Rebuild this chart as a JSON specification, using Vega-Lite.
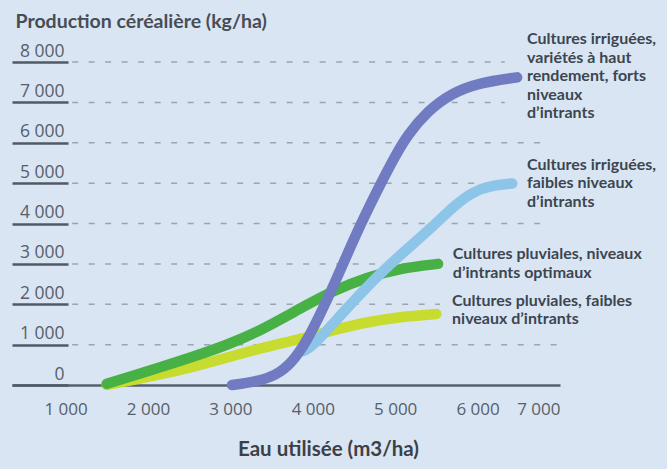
{
  "$schema": "https://vega.github.io/schema/vega-lite/v6.json",
  "autosize": "none",
  "width": 548,
  "height": 323,
  "padding": {"left": 12, "top": 62, "right": 107, "bottom": 84},
  "background": "#d9e5f3",
  "config": {"view": {"stroke": null}},
  "datasets": {
    "grid": [
      {"v": 8000, "x1": 1080, "x2": 6330},
      {"v": 7000, "x1": 1080, "x2": 6330},
      {"v": 6000, "x1": 1080, "x2": 6876},
      {"v": 5000, "x1": 1080, "x2": 6395},
      {"v": 4000, "x1": 1080, "x2": 6876},
      {"v": 3000, "x1": 1080, "x2": 5604},
      {"v": 2000, "x1": 1080, "x2": 5544},
      {"v": 1000, "x1": 1080, "x2": 6973}
    ],
    "curves": [
      {"s": "pf", "x": 1500, "y": 0},
      {"s": "pf", "x": 1800, "y": 120},
      {"s": "pf", "x": 2150, "y": 260},
      {"s": "pf", "x": 2550, "y": 450},
      {"s": "pf", "x": 2960, "y": 680},
      {"s": "pf", "x": 3380, "y": 920},
      {"s": "pf", "x": 3850, "y": 1140},
      {"s": "pf", "x": 4250, "y": 1360},
      {"s": "pf", "x": 4660, "y": 1560},
      {"s": "pf", "x": 5060, "y": 1690},
      {"s": "pf", "x": 5500, "y": 1760},
      {"s": "po", "x": 1500, "y": 30},
      {"s": "po", "x": 1800, "y": 220},
      {"s": "po", "x": 2150, "y": 440},
      {"s": "po", "x": 2550, "y": 700},
      {"s": "po", "x": 2960, "y": 990},
      {"s": "po", "x": 3380, "y": 1360},
      {"s": "po", "x": 3850, "y": 1900},
      {"s": "po", "x": 4250, "y": 2340},
      {"s": "po", "x": 4660, "y": 2670},
      {"s": "po", "x": 5060, "y": 2890},
      {"s": "po", "x": 5520, "y": 3000},
      {"s": "if", "x": 3890, "y": 840},
      {"s": "if", "x": 4020, "y": 1000},
      {"s": "if", "x": 4250, "y": 1530},
      {"s": "if", "x": 4540, "y": 2180},
      {"s": "if", "x": 4820, "y": 2770},
      {"s": "if", "x": 5140, "y": 3360},
      {"s": "if", "x": 5460, "y": 3930},
      {"s": "if", "x": 5720, "y": 4450},
      {"s": "if", "x": 5950, "y": 4800},
      {"s": "if", "x": 6190, "y": 4950},
      {"s": "if", "x": 6420, "y": 4990},
      {"s": "ih", "x": 3020, "y": 0},
      {"s": "ih", "x": 3300, "y": 80},
      {"s": "ih", "x": 3550, "y": 230},
      {"s": "ih", "x": 3750, "y": 550},
      {"s": "ih", "x": 3930, "y": 1100},
      {"s": "ih", "x": 4090, "y": 1750},
      {"s": "ih", "x": 4250, "y": 2450},
      {"s": "ih", "x": 4420, "y": 3250},
      {"s": "ih", "x": 4620, "y": 4150},
      {"s": "ih", "x": 4815, "y": 4950},
      {"s": "ih", "x": 4980, "y": 5600},
      {"s": "ih", "x": 5150, "y": 6200},
      {"s": "ih", "x": 5400, "y": 6800},
      {"s": "ih", "x": 5680, "y": 7220},
      {"s": "ih", "x": 6000, "y": 7480},
      {"s": "ih", "x": 6480, "y": 7620}
    ],
    "labels": [
      {"t": "Cultures irriguées,\nvariétés à haut\nrendement, forts\nniveaux\nd’intrants", "x": 6600, "y": 8760},
      {"t": "Cultures irriguées,\nfaibles niveaux\nd’intrants", "x": 6600, "y": 5650},
      {"t": "Cultures pluviales, niveaux\nd’intrants optimaux", "x": 5700, "y": 3440},
      {"t": "Cultures pluviales, faibles\nniveaux d’intrants", "x": 5690, "y": 2280}
    ]
  },
  "layer": [
    {
      "data": {"name": "grid"},
      "mark": {"type": "rule", "strokeDash": [6, 10.5], "strokeWidth": 1.5, "color": "#9ba5b0"},
      "encoding": {
        "x": {"field": "x1", "type": "quantitative", "scale": {"domain": [350, 7000], "nice": false, "zero": false},
          "axis": {
            "orient": "bottom", "values": [1000, 2000, 3000, 4000, 5000, 6000, 7000],
            "grid": false, "ticks": false, "domain": true, "domainColor": "#56616c", "domainWidth": 2.5,
            "labelPadding": 16, "labelFont": "Open Sans", "labelFontSize": 17, "labelColor": "#56606a",
            "labelExpr": "replace(format(datum.value, ','), ',', ' ')",
            "title": "Eau utilisée (m3/ha)", "titleFont": "Lato", "titleFontSize": 20.5, "titleFontWeight": "bold",
            "titleColor": "#3b4148", "titleAlign": "center", "titleBaseline": "alphabetic", "titleX": 316, "titleY": 70
          }},
        "x2": {"field": "x2"},
        "y": {"field": "v", "type": "quantitative", "scale": {"domain": [0, 8000], "nice": false},
          "axis": {
            "orient": "left", "values": [0, 1000, 2000, 3000, 4000, 5000, 6000, 7000, 8000],
            "grid": false, "domain": false, "ticks": true, "tickSize": -56, "tickWidth": 2.5, "tickColor": "#4f5a66",
            "labelAlign": "right", "labelBaseline": "alphabetic", "labelOffset": -6, "labelPadding": 4,
            "labelFont": "Open Sans", "labelFontSize": 17.5, "labelColor": "#56606a",
            "labelExpr": "replace(format(datum.value, ','), ',', ' ')",
            "title": "Production céréalière (kg/ha)", "titleAngle": 0, "titleAlign": "left", "titleBaseline": "alphabetic",
            "titleX": 3, "titleY": -35, "titleFont": "Lato", "titleFontSize": 19.5, "titleFontWeight": "bold", "titleColor": "#474d55"
          }}
      }
    },
    {
      "data": {"name": "curves"},
      "mark": {"type": "line", "interpolate": "basis", "strokeWidth": 10.5, "strokeCap": "round", "strokeJoin": "round"},
      "encoding": {
        "x": {"field": "x", "type": "quantitative"},
        "y": {"field": "y", "type": "quantitative"},
        "color": {"field": "s", "type": "nominal", "legend": null,
          "scale": {"domain": ["pf", "po", "if", "ih"], "range": ["#c7dc2e", "#47b146", "#8dc5e9", "#717bc2"]}},
        "order": {"field": "x", "type": "quantitative"}
      }
    },
    {
      "data": {"name": "labels"},
      "mark": {"type": "text", "align": "left", "baseline": "top", "lineBreak": "\n", "lineHeight": 18.5,
        "font": "Lato", "fontSize": 16, "fontWeight": "bold", "color": "#3c4650"},
      "encoding": {
        "x": {"field": "x", "type": "quantitative"},
        "y": {"field": "y", "type": "quantitative"},
        "text": {"field": "t"}
      }
    }
  ]
}
